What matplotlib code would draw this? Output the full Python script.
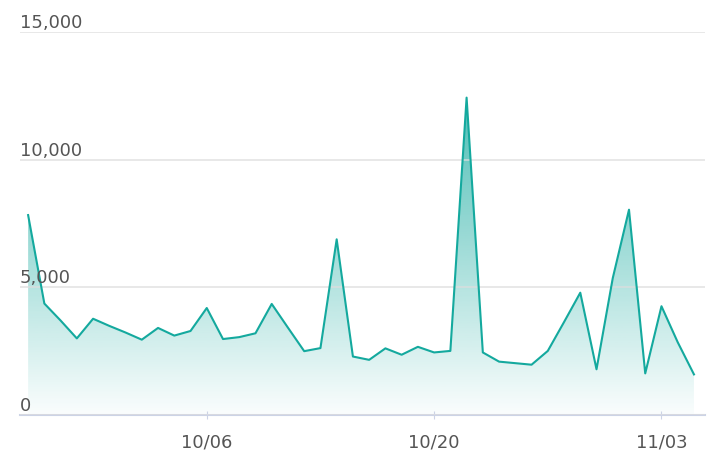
import matplotlib
matplotlib.use('Agg')
import matplotlib.pyplot as plt
import matplotlib.dates as mdates
import numpy as np
import pandas as pd
from matplotlib.colors import to_rgb

dates = pd.date_range('2023-09-25', '2023-11-05', freq='D')
values = [7830, 4365, 3700, 3000, 3770, 3490, 3230, 2950, 3410, 3110,
          3290, 4190, 2975, 3050, 3200, 4350, 3420, 2500, 2620, 6880,
          2290, 2160, 2610, 2360, 2670, 2450, 2510, 12430, 2450, 2090,
          2030, 1970, 2510, 3640, 4790, 1790, 5360, 8040, 1630, 4260,
          2850, 1590]
yticks = [0, 5000, 10000, 15000]
xticks = ['2023-10-06', '2023-10-20', '2023-11-03']

line_color = '#14a99e'

fig = plt.figure(figsize=(7.12, 4.74), dpi=100)
ax = fig.add_axes([20/712, 1-415/474, 685/712, 383/474])

x = mdates.date2num(dates)
ax.set_xlim(x[0] - 0.5, x[-1] + 0.68)
ax.set_ylim(0, 15000)

# gradient fill under the line
r, g, b = to_rgb(line_color)
grad = np.zeros((256, 1, 4))
grad[:, 0, 0], grad[:, 0, 1], grad[:, 0, 2] = r, g, b
grad[:, 0, 3] = np.linspace(0.75, 0.02, 256)
ymax = max(values)
img = ax.imshow(grad, aspect='auto', extent=[x[0], x[-1], 0, ymax],
                origin='upper', zorder=1)
poly = ax.fill_between(x, values, 0, color='none')
clip = poly.get_paths()[0]
img.set_clip_path(clip, transform=ax.transData)
ax.plot(x, values, color=line_color, lw=1.5, zorder=3)

ax.set_yticks(yticks)
ax.set_axisbelow(False)
ax.grid(axis='y', color='#dddddd', lw=1.2, alpha=0.8, zorder=2)
ax.tick_params(axis='y', length=0, labelleft=False)
for v in yticks:
    ax.text(0.0, v, f'{v:,}', transform=ax.get_yaxis_transform(),
            ha='left', va='bottom', fontsize=13, color='#555555')

ax.set_xticks(mdates.date2num(pd.to_datetime(xticks)))
ax.set_xticklabels([pd.Timestamp(t).strftime('%m/%d') for t in xticks],
                   fontsize=13, color='#555555')
ax.tick_params(axis='x', length=6, color='#ccd3e6', direction='inout', pad=10)

for s in ['top', 'right', 'left']:
    ax.spines[s].set_visible(False)
ax.spines['bottom'].set_color('#ccd3e6')
ax.spines['bottom'].set_linewidth(1.5)

fig.savefig('out.png', dpi=100)
